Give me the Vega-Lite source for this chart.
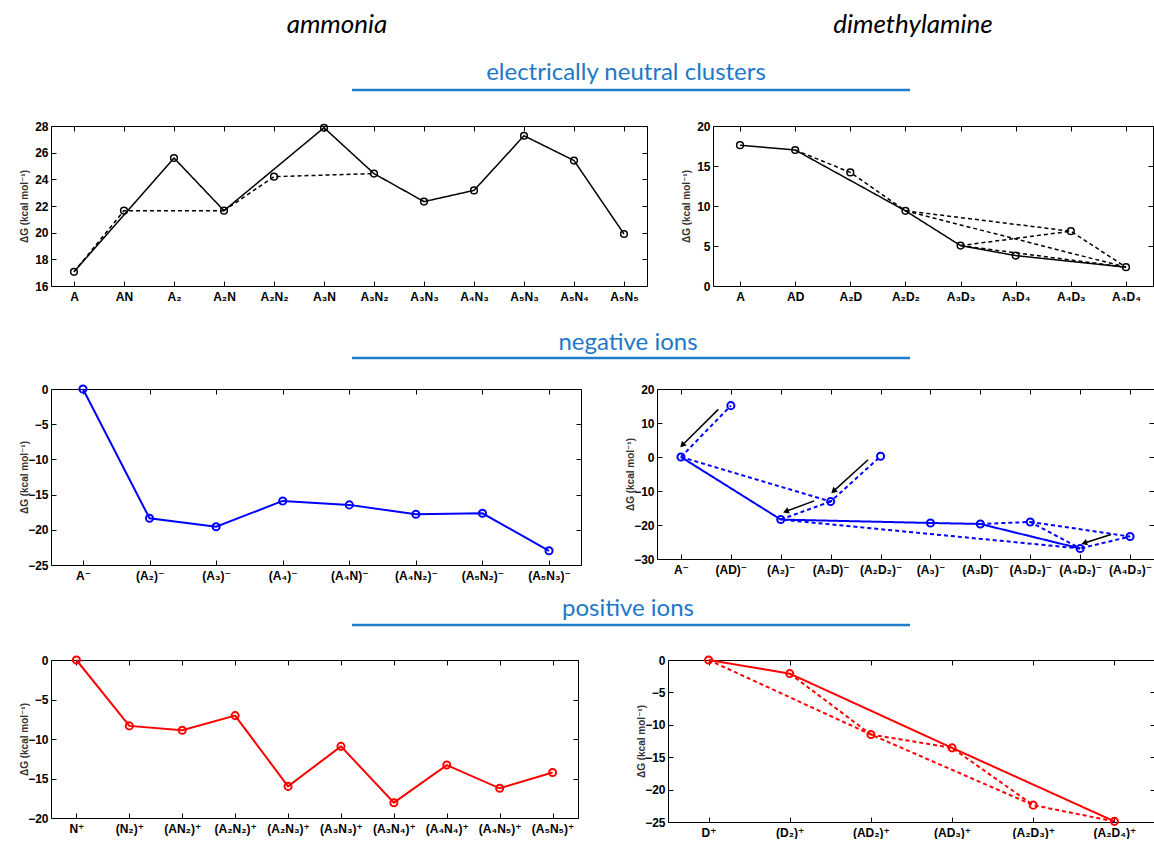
{
  "$schema": "https://vega.github.io/schema/vega-lite/v6.json",
  "padding": {"left": 18, "top": 5, "right": 0, "bottom": 0},
  "spacing": 0,
  "config": {
    "view": {"stroke": "#000", "strokeWidth": 1},
    "font": "Liberation Sans",
    "axis": {
      "labelFont": "Liberation Sans, DejaVu Sans",
      "labelFontWeight": "bold",
      "labelFontSize": 12,
      "labelColor": "#000",
      "tickColor": "#000",
      "tickSize": -5,
      "tickWidth": 1,
      "domain": false,
      "grid": false,
      "titleFont": "Liberation Sans, DejaVu Sans",
      "titleFontSize": 10,
      "titleFontWeight": "bold",
      "titleColor": "#333"
    },
    "axisX": {"labelPadding": 10},
    "axisY": {"labelPadding": 8},
    "axisLeft": {"minExtent": 26, "maxExtent": 26, "titlePadding": -4}
  },
  "datasets": {
    "tl_pts": [
      {"cat": "A", "y": 17.06}, {"cat": "AN", "y": 21.65}, {"cat": "A₂", "y": 25.6}, {"cat": "A₂N", "y": 21.65},
      {"cat": "A₂N₂", "y": 24.2}, {"cat": "A₃N", "y": 27.87}, {"cat": "A₃N₂", "y": 24.43}, {"cat": "A₃N₃", "y": 22.33},
      {"cat": "A₄N₃", "y": 23.17}, {"cat": "A₅N₃", "y": 27.27}, {"cat": "A₅N₄", "y": 25.41}, {"cat": "A₅N₅", "y": 19.9}
    ],
    "tl_lines": [
      {"g": "s", "t": "solid", "cat": "A", "y": 17.06}, {"g": "s", "t": "solid", "cat": "A₂", "y": 25.6},
      {"g": "s", "t": "solid", "cat": "A₂N", "y": 21.65}, {"g": "s", "t": "solid", "cat": "A₃N", "y": 27.87},
      {"g": "s", "t": "solid", "cat": "A₃N₂", "y": 24.43}, {"g": "s", "t": "solid", "cat": "A₃N₃", "y": 22.33},
      {"g": "s", "t": "solid", "cat": "A₄N₃", "y": 23.17}, {"g": "s", "t": "solid", "cat": "A₅N₃", "y": 27.27},
      {"g": "s", "t": "solid", "cat": "A₅N₄", "y": 25.41}, {"g": "s", "t": "solid", "cat": "A₅N₅", "y": 19.9},
      {"g": "d1", "t": "dashed", "cat": "A", "y": 17.06}, {"g": "d1", "t": "dashed", "cat": "AN", "y": 21.65},
      {"g": "d1", "t": "dashed", "cat": "A₂N", "y": 21.65},
      {"g": "d2", "t": "dashed", "cat": "A₂N", "y": 21.65}, {"g": "d2", "t": "dashed", "cat": "A₂N₂", "y": 24.2},
      {"g": "d2", "t": "dashed", "cat": "A₃N₂", "y": 24.43}
    ],
    "tr_pts": [
      {"cat": "A", "y": 17.6}, {"cat": "AD", "y": 17.0}, {"cat": "A₂D", "y": 14.2}, {"cat": "A₂D₂", "y": 9.4},
      {"cat": "A₃D₃", "y": 5.05}, {"cat": "A₃D₄", "y": 3.8}, {"cat": "A₄D₃", "y": 6.85}, {"cat": "A₄D₄", "y": 2.35}
    ],
    "tr_lines": [
      {"g": "s", "t": "solid", "cat": "A", "y": 17.6}, {"g": "s", "t": "solid", "cat": "AD", "y": 17.0},
      {"g": "s", "t": "solid", "cat": "A₂D₂", "y": 9.4}, {"g": "s", "t": "solid", "cat": "A₃D₃", "y": 5.05},
      {"g": "s", "t": "solid", "cat": "A₃D₄", "y": 3.8}, {"g": "s", "t": "solid", "cat": "A₄D₄", "y": 2.35},
      {"g": "d1", "t": "dashed", "cat": "AD", "y": 17.0}, {"g": "d1", "t": "dashed", "cat": "A₂D", "y": 14.2},
      {"g": "d1", "t": "dashed", "cat": "A₂D₂", "y": 9.4},
      {"g": "d2", "t": "dashed", "cat": "A₂D₂", "y": 9.4}, {"g": "d2", "t": "dashed", "cat": "A₄D₃", "y": 6.85},
      {"g": "d2", "t": "dashed", "cat": "A₄D₄", "y": 2.35},
      {"g": "d3", "t": "dashed", "cat": "A₂D₂", "y": 9.4}, {"g": "d3", "t": "dashed", "cat": "A₄D₄", "y": 2.35},
      {"g": "d4", "t": "dashed", "cat": "A₃D₃", "y": 5.05}, {"g": "d4", "t": "dashed", "cat": "A₄D₃", "y": 6.85},
      {"g": "d5", "t": "dashed", "cat": "A₃D₃", "y": 5.05}, {"g": "d5", "t": "dashed", "cat": "A₄D₄", "y": 2.35}
    ],
    "ml_pts": [
      {"cat": "A⁻", "y": 0}, {"cat": "(A₂)⁻", "y": -18.37}, {"cat": "(A₃)⁻", "y": -19.57}, {"cat": "(A₄)⁻", "y": -15.9},
      {"cat": "(A₄N)⁻", "y": -16.46}, {"cat": "(A₄N₂)⁻", "y": -17.8}, {"cat": "(A₅N₂)⁻", "y": -17.65}, {"cat": "(A₅N₃)⁻", "y": -22.98}
    ],
    "mr_pts": [
      {"n": 0, "cat": "A⁻", "y": 0}, {"n": 1, "cat": "(AD)⁻", "y": 15.1}, {"n": 2, "cat": "(A₂)⁻", "y": -18.4},
      {"n": 3, "cat": "(A₂D)⁻", "y": -13.1}, {"n": 4, "cat": "(A₂D₂)⁻", "y": 0.2}, {"n": 5, "cat": "(A₃)⁻", "y": -19.4},
      {"n": 6, "cat": "(A₃D)⁻", "y": -19.7}, {"n": 7, "cat": "(A₃D₂)⁻", "y": -19.1}, {"n": 8, "cat": "(A₄D₂)⁻", "y": -26.9},
      {"n": 9, "cat": "(A₄D₃)⁻", "y": -23.4}
    ],
    "mr_lines": [
      {"g": "s", "t": "solid", "n": 0, "y": 0}, {"g": "s", "t": "solid", "n": 2, "y": -18.4},
      {"g": "s", "t": "solid", "n": 5, "y": -19.4}, {"g": "s", "t": "solid", "n": 6, "y": -19.7},
      {"g": "s", "t": "solid", "n": 8, "y": -26.9},
      {"g": "d1", "t": "dashed", "n": 0, "y": 0}, {"g": "d1", "t": "dashed", "n": 1, "y": 15.1},
      {"g": "d2", "t": "dashed", "n": 0, "y": 0}, {"g": "d2", "t": "dashed", "n": 3, "y": -13.1},
      {"g": "d2", "t": "dashed", "n": 4, "y": 0.2},
      {"g": "d3", "t": "dashed", "n": 3, "y": -13.1}, {"g": "d3", "t": "dashed", "n": 2, "y": -18.4},
      {"g": "d3", "t": "dashed", "n": 8, "y": -26.9},
      {"g": "d4", "t": "dashed", "n": 6, "y": -19.7}, {"g": "d4", "t": "dashed", "n": 7, "y": -19.1},
      {"g": "d4", "t": "dashed", "n": 8, "y": -26.9},
      {"g": "d5", "t": "dashed", "n": 7, "y": -19.1}, {"g": "d5", "t": "dashed", "n": 9, "y": -23.4},
      {"g": "d5", "t": "dashed", "n": 8, "y": -26.9}
    ],
    "mr_arrows": [
      {"x1": 0.75, "y1": 14.0, "x2": 0.04, "y2": 3.7, "ang": 225},
      {"x1": 3.75, "y1": -0.8, "x2": 3.07, "y2": -9.9, "ang": 228},
      {"x1": 2.67, "y1": -12.9, "x2": 2.12, "y2": -15.9, "ang": 250},
      {"x1": 8.62, "y1": -22.8, "x2": 8.1, "y2": -25.2, "ang": 252}
    ],
    "bl_pts": [
      {"cat": "N⁺", "y": 0}, {"cat": "(N₂)⁺", "y": -8.34}, {"cat": "(AN₂)⁺", "y": -8.9}, {"cat": "(A₂N₂)⁺", "y": -7.04},
      {"cat": "(A₂N₃)⁺", "y": -16.0}, {"cat": "(A₃N₃)⁺", "y": -10.93}, {"cat": "(A₃N₄)⁺", "y": -18.06},
      {"cat": "(A₄N₄)⁺", "y": -13.3}, {"cat": "(A₄N₅)⁺", "y": -16.24}, {"cat": "(A₅N₅)⁺", "y": -14.25}
    ],
    "br_pts": [
      {"cat": "D⁺", "y": 0}, {"cat": "(D₂)⁺", "y": -2.1}, {"cat": "(AD₂)⁺", "y": -11.5}, {"cat": "(AD₃)⁺", "y": -13.56},
      {"cat": "(A₂D₃)⁺", "y": -22.4}, {"cat": "(A₂D₄)⁺", "y": -24.9}
    ],
    "br_lines": [
      {"g": "s", "t": "solid", "cat": "D⁺", "y": 0}, {"g": "s", "t": "solid", "cat": "(D₂)⁺", "y": -2.1},
      {"g": "s", "t": "solid", "cat": "(AD₃)⁺", "y": -13.56}, {"g": "s", "t": "solid", "cat": "(A₂D₄)⁺", "y": -24.9},
      {"g": "d1", "t": "dashed", "cat": "D⁺", "y": 0}, {"g": "d1", "t": "dashed", "cat": "(AD₂)⁺", "y": -11.5},
      {"g": "d1", "t": "dashed", "cat": "(A₂D₃)⁺", "y": -22.4}, {"g": "d1", "t": "dashed", "cat": "(A₂D₄)⁺", "y": -24.9},
      {"g": "d2", "t": "dashed", "cat": "(D₂)⁺", "y": -2.1}, {"g": "d2", "t": "dashed", "cat": "(AD₂)⁺", "y": -11.5},
      {"g": "d3", "t": "dashed", "cat": "(AD₂)⁺", "y": -11.5}, {"g": "d3", "t": "dashed", "cat": "(AD₃)⁺", "y": -13.56},
      {"g": "d3", "t": "dashed", "cat": "(A₂D₃)⁺", "y": -22.4}
    ]
  },
  "vconcat": [
    {
      "width": 1100, "height": 114, "view": {"stroke": null},
      "encoding": {
        "x": {"type": "quantitative", "scale": {"domain": [0, 1100], "nice": false, "zero": false}, "axis": null},
        "y": {"type": "quantitative", "scale": {"domain": [0, 114], "nice": false, "zero": false, "reverse": true}, "axis": null}
      },
      "layer": [
        {"data": {"values": [{"label": "ammonia"}]},
         "mark": {"type": "text", "font": "Lato", "fontStyle": "italic", "fontSize": 26, "color": "#000"},
         "encoding": {"x": {"datum": 286}, "y": {"datum": 20}, "text": {"field": "label"}}},
        {"data": {"values": [{"label": "dimethylamine"}]},
         "mark": {"type": "text", "font": "Lato", "fontStyle": "italic", "fontSize": 26, "color": "#000"},
         "encoding": {"x": {"datum": 862}, "y": {"datum": 20}, "text": {"field": "label"}}},
        {"data": {"values": [{"label": "electrically neutral clusters"}]},
         "mark": {"type": "text", "font": "Lato", "fontSize": 24, "color": "#1e78c8"},
         "encoding": {"x": {"datum": 575}, "y": {"datum": 68}, "text": {"field": "label"}}},
        {"data": {"values": [{}]},
         "mark": {"type": "rule", "color": "#1e7cc8", "strokeWidth": 2.5},
         "encoding": {"x": {"datum": 301}, "x2": {"datum": 859}, "y": {"datum": 85}}}
      ]
    },
    {
      "hconcat": [
        {
          "width": 596, "height": 160,
          "layer": [
            {"data": {"name": "tl_lines"},
             "mark": {"type": "line", "color": "#000", "strokeWidth": 1.5},
             "encoding": {
               "x": {"field": "cat", "type": "ordinal", "scale": {"type": "point", "padding": 0.46, "domain": ["A","AN","A₂","A₂N","A₂N₂","A₃N","A₃N₂","A₃N₃","A₄N₃","A₅N₃","A₅N₄","A₅N₅"]}, "axis": {"orient": "bottom", "title": null, "labelAngle": 0}},
               "y": {"field": "y", "type": "quantitative", "scale": {"domain": [16, 28], "nice": false, "zero": false}, "axis": {"orient": "left", "values": [16,18,20,22,24,26,28], "title": "ΔG (kcal mol⁻¹)"}},
               "detail": {"field": "g"},
               "strokeDash": {"field": "t", "type": "nominal", "scale": {"domain": ["solid", "dashed"], "range": [[1, 0], [4, 3]]}, "legend": null},
               "order": {"value": null}
             }},
            {"data": {"name": "tl_pts"},
             "mark": {"type": "point", "shape": "circle", "size": 45, "strokeWidth": 1.5, "color": "#000", "filled": false, "opacity": 1},
             "encoding": {
               "x": {"field": "cat", "type": "ordinal", "axis": {"orient": "top", "labels": false, "title": null}},
               "y": {"field": "y", "type": "quantitative", "axis": {"orient": "right", "labels": false, "title": null, "values": [16,18,20,22,24,26,28]}}
             }}
          ],
          "resolve": {"axis": {"x": "independent", "y": "independent"}}
        },
        {
          "width": 440, "height": 160,
          "layer": [
            {"data": {"name": "tr_lines"},
             "mark": {"type": "line", "color": "#000", "strokeWidth": 1.5},
             "encoding": {
               "x": {"field": "cat", "type": "ordinal", "scale": {"type": "point", "padding": 0.49, "domain": ["A","AD","A₂D","A₂D₂","A₃D₃","A₃D₄","A₄D₃","A₄D₄"]}, "axis": {"orient": "bottom", "title": null, "labelAngle": 0}},
               "y": {"field": "y", "type": "quantitative", "scale": {"domain": [0, 20], "nice": false}, "axis": {"orient": "left", "values": [0,5,10,15,20], "title": "ΔG (kcal mol⁻¹)"}},
               "detail": {"field": "g"},
               "strokeDash": {"field": "t", "type": "nominal", "scale": {"domain": ["solid", "dashed"], "range": [[1, 0], [4, 3]]}, "legend": null},
               "order": {"value": null}
             }},
            {"data": {"name": "tr_pts"},
             "mark": {"type": "point", "shape": "circle", "size": 45, "strokeWidth": 1.5, "color": "#000", "filled": false, "opacity": 1},
             "encoding": {
               "x": {"field": "cat", "type": "ordinal", "axis": {"orient": "top", "labels": false, "title": null}},
               "y": {"field": "y", "type": "quantitative", "axis": {"orient": "right", "labels": false, "title": null, "values": [0,5,10,15,20]}}
             }}
          ],
          "resolve": {"axis": {"x": "independent", "y": "independent"}}
        }
      ],
      "spacing": 32
    },
    {
      "width": 1100, "height": 77, "view": {"stroke": null},
      "encoding": {
        "x": {"type": "quantitative", "scale": {"domain": [0, 1100], "nice": false, "zero": false}, "axis": null},
        "y": {"type": "quantitative", "scale": {"domain": [0, 77], "nice": false, "zero": false, "reverse": true}, "axis": null}
      },
      "layer": [
        {"data": {"values": [{"label": "negative ions"}]},
         "mark": {"type": "text", "font": "Lato", "fontSize": 24, "color": "#1e78c8"},
         "encoding": {"x": {"datum": 577}, "y": {"datum": 40}, "text": {"field": "label"}}},
        {"data": {"values": [{}]},
         "mark": {"type": "rule", "color": "#1e7cc8", "strokeWidth": 2.5},
         "encoding": {"x": {"datum": 301}, "x2": {"datum": 859}, "y": {"datum": 55}}}
      ]
    },
    {
      "hconcat": [
        {
          "width": 530, "height": 176,
          "layer": [
            {"data": {"name": "ml_pts"},
             "mark": {"type": "line", "color": "#0000ff", "strokeWidth": 2},
             "encoding": {
               "x": {"field": "cat", "type": "ordinal", "scale": {"type": "point", "padding": 0.48, "domain": ["A⁻","(A₂)⁻","(A₃)⁻","(A₄)⁻","(A₄N)⁻","(A₄N₂)⁻","(A₅N₂)⁻","(A₅N₃)⁻"]}, "axis": {"orient": "bottom", "title": null, "labelAngle": 0}},
               "y": {"field": "y", "type": "quantitative", "scale": {"domain": [-25, 0], "nice": false}, "axis": {"orient": "left", "values": [-25,-20,-15,-10,-5,0], "title": "ΔG (kcal mol⁻¹)"}},
               "order": {"value": null}
             }},
            {"data": {"name": "ml_pts"},
             "mark": {"type": "point", "shape": "circle", "size": 50, "strokeWidth": 2, "color": "#0000ff", "filled": false, "opacity": 1},
             "encoding": {
               "x": {"field": "cat", "type": "ordinal", "axis": {"orient": "top", "labels": false, "title": null}},
               "y": {"field": "y", "type": "quantitative", "axis": {"orient": "right", "labels": false, "title": null, "values": [-25,-20,-15,-10,-5,0]}}
             }}
          ],
          "resolve": {"axis": {"x": "independent", "y": "independent"}}
        },
        {
          "width": 497, "height": 170,
          "layer": [
            {"data": {"name": "mr_lines"},
             "mark": {"type": "line", "color": "#0000ff", "strokeWidth": 2},
             "encoding": {
               "x": {"field": "n", "type": "quantitative", "scale": {"domain": [-0.48, 9.48], "nice": false, "zero": false}, "axis": {"orient": "bottom", "title": null, "values": [0,1,2,3,4,5,6,7,8,9], "labelExpr": "['A⁻','(AD)⁻','(A₂)⁻','(A₂D)⁻','(A₂D₂)⁻','(A₃)⁻','(A₃D)⁻','(A₃D₂)⁻','(A₄D₂)⁻','(A₄D₃)⁻'][datum.value]", "labelFlush": false, "labelOverlap": false}},
               "y": {"field": "y", "type": "quantitative", "scale": {"domain": [-30, 20], "nice": false}, "axis": {"orient": "left", "values": [-30,-20,-10,0,10,20], "title": "ΔG (kcal mol⁻¹)"}},
               "detail": {"field": "g"},
               "strokeDash": {"field": "t", "type": "nominal", "scale": {"domain": ["solid", "dashed"], "range": [[1, 0], [5, 3]]}, "legend": null},
               "order": {"value": null}
             }},
            {"data": {"name": "mr_pts"},
             "mark": {"type": "point", "shape": "circle", "size": 50, "strokeWidth": 2, "color": "#0000ff", "filled": false, "opacity": 1},
             "encoding": {
               "x": {"field": "n", "type": "quantitative", "axis": {"orient": "top", "labels": false, "title": null, "values": [0,1,2,3,4,5,6,7,8,9]}},
               "y": {"field": "y", "type": "quantitative", "axis": {"orient": "right", "labels": false, "title": null, "values": [-30,-20,-10,0,10,20]}}
             }},
            {"data": {"name": "mr_arrows"},
             "mark": {"type": "rule", "color": "#000", "strokeWidth": 1.5},
             "encoding": {
               "x": {"field": "x1", "type": "quantitative", "axis": null}, "y": {"field": "y1", "type": "quantitative", "axis": null},
               "x2": {"field": "x2"}, "y2": {"field": "y2"}
             }},
            {"data": {"name": "mr_arrows"},
             "mark": {"type": "point", "shape": "triangle", "size": 45, "filled": true, "color": "#000", "opacity": 1},
             "encoding": {
               "x": {"field": "x2", "type": "quantitative", "axis": null}, "y": {"field": "y2", "type": "quantitative", "axis": null},
               "angle": {"field": "ang", "type": "quantitative", "scale": null}
             }}
          ],
          "resolve": {"axis": {"x": "independent", "y": "independent"}}
        }
      ],
      "spacing": 42
    },
    {
      "width": 1100, "height": 69, "view": {"stroke": null},
      "encoding": {
        "x": {"type": "quantitative", "scale": {"domain": [0, 1100], "nice": false, "zero": false}, "axis": null},
        "y": {"type": "quantitative", "scale": {"domain": [0, 69], "nice": false, "zero": false, "reverse": true}, "axis": null}
      },
      "layer": [
        {"data": {"values": [{"label": "positive ions"}]},
         "mark": {"type": "text", "font": "Lato", "fontSize": 24, "color": "#1e78c8"},
         "encoding": {"x": {"datum": 577}, "y": {"datum": 27}, "text": {"field": "label"}}},
        {"data": {"values": [{}]},
         "mark": {"type": "rule", "color": "#1e7cc8", "strokeWidth": 2.5},
         "encoding": {"x": {"datum": 301}, "x2": {"datum": 859}, "y": {"datum": 43}}}
      ]
    },
    {
      "hconcat": [
        {
          "width": 527, "height": 158,
          "layer": [
            {"data": {"name": "bl_pts"},
             "mark": {"type": "line", "color": "#ff0000", "strokeWidth": 2},
             "encoding": {
               "x": {"field": "cat", "type": "ordinal", "scale": {"type": "point", "padding": 0.48, "domain": ["N⁺","(N₂)⁺","(AN₂)⁺","(A₂N₂)⁺","(A₂N₃)⁺","(A₃N₃)⁺","(A₃N₄)⁺","(A₄N₄)⁺","(A₄N₅)⁺","(A₅N₅)⁺"]}, "axis": {"orient": "bottom", "title": null, "labelAngle": 0}},
               "y": {"field": "y", "type": "quantitative", "scale": {"domain": [-20, 0], "nice": false}, "axis": {"orient": "left", "values": [-20,-15,-10,-5,0], "title": "ΔG (kcal mol⁻¹)"}},
               "order": {"value": null}
             }},
            {"data": {"name": "bl_pts"},
             "mark": {"type": "point", "shape": "circle", "size": 50, "strokeWidth": 2, "color": "#ff0000", "filled": false, "opacity": 1},
             "encoding": {
               "x": {"field": "cat", "type": "ordinal", "axis": {"orient": "top", "labels": false, "title": null}},
               "y": {"field": "y", "type": "quantitative", "axis": {"orient": "right", "labels": false, "title": null, "values": [-20,-15,-10,-5,0]}}
             }}
          ],
          "resolve": {"axis": {"x": "independent", "y": "independent"}}
        },
        {
          "width": 487, "height": 162,
          "layer": [
            {"data": {"name": "br_lines"},
             "mark": {"type": "line", "color": "#ff0000", "strokeWidth": 2},
             "encoding": {
               "x": {"field": "cat", "type": "ordinal", "scale": {"type": "point", "padding": 0.5, "domain": ["D⁺","(D₂)⁺","(AD₂)⁺","(AD₃)⁺","(A₂D₃)⁺","(A₂D₄)⁺"]}, "axis": {"orient": "bottom", "title": null, "labelAngle": 0}},
               "y": {"field": "y", "type": "quantitative", "scale": {"domain": [-25, 0], "nice": false}, "axis": {"orient": "left", "values": [-25,-20,-15,-10,-5,0], "title": "ΔG (kcal mol⁻¹)"}},
               "detail": {"field": "g"},
               "strokeDash": {"field": "t", "type": "nominal", "scale": {"domain": ["solid", "dashed"], "range": [[1, 0], [4, 3]]}, "legend": null},
               "order": {"value": null}
             }},
            {"data": {"name": "br_pts"},
             "mark": {"type": "point", "shape": "circle", "size": 50, "strokeWidth": 2, "color": "#ff0000", "filled": false, "opacity": 1},
             "encoding": {
               "x": {"field": "cat", "type": "ordinal", "axis": {"orient": "top", "labels": false, "title": null}},
               "y": {"field": "y", "type": "quantitative", "axis": {"orient": "right", "labels": false, "title": null, "values": [-25,-20,-15,-10,-5,0]}}
             }}
          ],
          "resolve": {"axis": {"x": "independent", "y": "independent"}}
        }
      ],
      "spacing": 56
    }
  ]
}
